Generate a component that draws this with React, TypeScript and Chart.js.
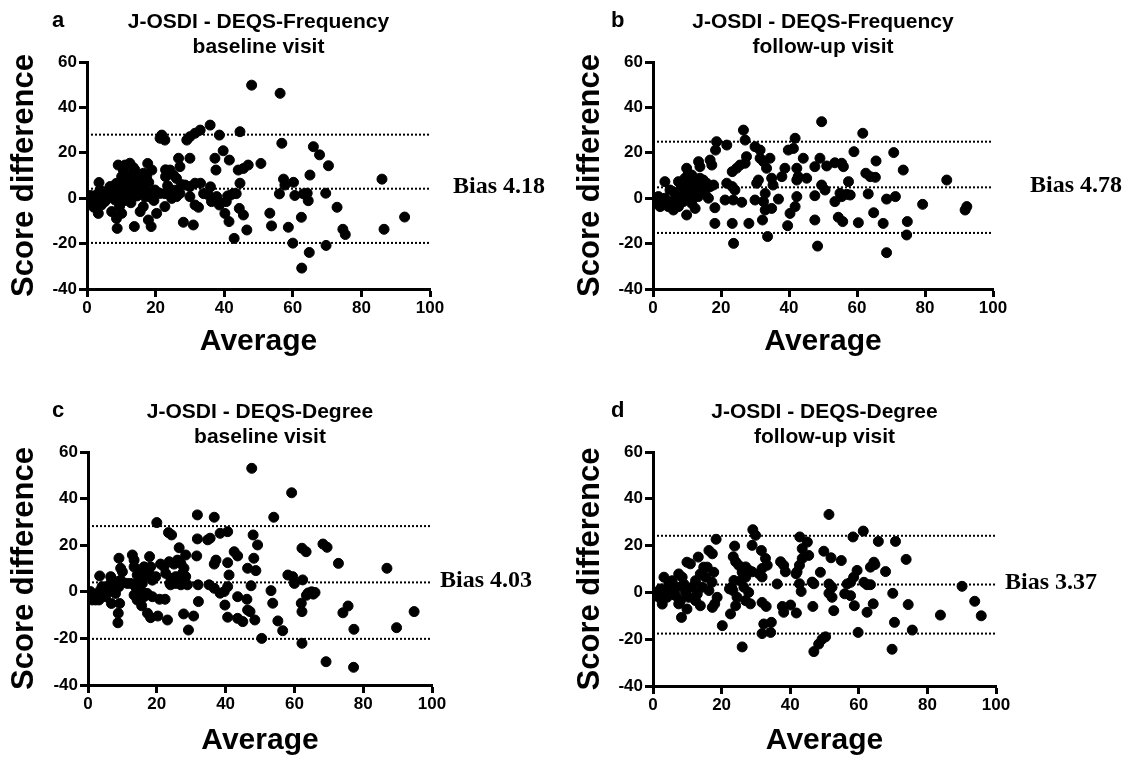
import React, { useEffect, useRef } from 'react';
import { Chart, registerables } from 'chart.js';

Chart.register(...registerables);

const SANS = '"Liberation Sans", Arial, Helvetica, sans-serif';
const SERIF = '"Liberation Serif", "Times New Roman", serif';

// ---- data ----
const xTickValues = [0, 20, 40, 60, 80, 100];
const yTickValues = [-40, -20, 0, 20, 40, 60];
const panelLetters = ['a', 'b', 'c', 'd'];
const titleLine1 = ['J-OSDI - DEQS-Frequency', 'J-OSDI - DEQS-Frequency', 'J-OSDI - DEQS-Degree', 'J-OSDI - DEQS-Degree'];
const titleLine2 = ['baseline visit', 'follow-up visit', 'baseline visit', 'follow-up visit'];
const yAxisTitle = 'Score difference';
const xAxisTitle = 'Average';
const biasValues = [4.18, 4.78, 4.03, 3.37];
const upperLimits = [28.0, 24.9, 28.2, 24.2];
const lowerLimits = [-19.7, -15.3, -20.2, -17.6];

const pointsA: [number, number][] = [
  [0,0],[0.5,-1.5],[1.0,1.2],[1.3,-0.7],[1.9,0],[2.0,-4.0],[2.3,-2.6],[2.5,1.2],[3.0,-1.5],[3.3,-6.7],[3.5,6.9],[3.8,3.6],[4.2,-3.0],[4.7,1.5],[4.8,0.7],[5.2,-1.5],[5.6,2.9],[5.8,-0.5],[6.2,2.9],[6.5,1.0],[6.7,5.1],[7.0,3.5],[7.2,-5.9],[7.7,1.4],[8.0,2.0],[8.2,-0.8],[8.5,6.5],[8.6,-8.9],[8.8,-13.3],[9.0,0.0],[9.1,14.6],[9.4,4.3],[9.5,-3.5],[9.8,2.5],[10.1,-6.7],[10.1,9.5],[10.5,5.0],[10.6,12.4],[11.0,-1.0],[11.1,14.6],[11.5,1.5],[11.6,7.3],[12.0,10.0],[12.3,5.1],[12.5,15.4],[12.8,-2.0],[13.0,3.6],[13.0,8.0],[13.5,0.7],[13.5,13.5],[13.8,-12.5],[14.0,12.4],[14.0,4.0],[14.5,9.5],[14.6,1.0],[15.0,6.6],[15.5,-5.9],[15.5,9.0],[15.9,3.6],[16.0,7.5],[16.4,-3.7],[16.5,11.0],[16.9,5.1],[17.0,0.5],[17.4,9.5],[17.5,3.0],[17.7,15.3],[17.9,-9.6],[18.0,7.0],[18.7,-12.5],[18.9,2.1],[18.9,12.4],[19.0,0.0],[19.5,-1.0],[19.8,3.6],[20.3,-6.7],[21.3,2.1],
  [21.3,26.4],[21.8,27.8],[22.7,25.6],[22.7,-3.7],[22.7,2.0],[22.9,12.5],[22.9,9.5],[23.5,5.5],[23.7,4.3],[24.2,12.4],[24.7,-0.1],[25.2,10.2],[25.5,3.5],[26.1,8.7],[26.1,0.7],[26.7,17.6],[27.1,13.9],[27.1,2.1],[27.5,6.0],[28.1,-10.6],[28.6,5.8],[29.1,25.6],[30.0,27.1],[30.0,5.1],[30.0,17.6],[30.0,0.7],[31.0,-11.8],[31.5,-3.0],[31.5,6.6],[31.5,28.6],[32.5,-4.0],[33.0,30.0],[33.1,6.6],[34.0,2.0],[35.4,1.4],[35.9,32.2],[36.0,5.0],[36.3,-1.5],[37.3,17.6],[37.6,12.4],[37.8,0.7],[38.2,-1.2],[38.6,27.8],[38.6,-3.0],[39.7,20.9],[40.2,-6.7],[40.6,-1.5],[41.0,1.0],[41.4,-10.3],[41.5,16.8],[41.9,1.4],[42.7,2.1],[42.9,-17.7],[43.5,2.0],[44.1,12.4],[44.4,-4.5],[44.6,29.3],[44.6,6.6],[45.6,13.1],[45.6,-7.4],[46.6,-14.0],[47.0,14.6],[48.0,49.8],[50.7,15.3],
  [53.3,-6.6],[53.8,-12.2],[56.1,1.9],[56.3,46.2],[56.8,24.2],[57.3,8.4],[57.7,5.8],[58.7,-12.8],[60.0,-19.8],[60.2,7.0],[60.6,1.2],[62.5,-8.4],[62.6,-30.8],[63.1,1.9],[64.2,2.2],[64.5,-1.1],[64.8,-23.9],[65.0,10.2],[66.0,22.7],[67.8,19.1],[69.6,2.2],[69.7,-20.8],[70.4,14.3],[72.9,-4.0],[74.6,-13.7],[75.3,-16.0],[86.0,8.4],[86.6,-13.7],[92.6,-8.3],
];

const pointsB: [number, number][] = [
  [0.2,0],[0.6,-0.8],[1.1,-2.3],[1.6,0.7],[2.1,-3.7],[2.5,-1.5],[3.5,0],[3.5,7.3],[4.0,-3.0],[4.5,-3.7],[5.0,3.6],[5.5,-1.5],[6.0,-5.2],[6.5,2.1],[7.0,-0.8],[7.5,-3.7],[7.5,7.3],[7.9,3.6],[8.4,0.7],[8.4,6.6],[8.9,-1.5],[9.4,5.1],[9.4,8.8],[9.9,13.2],[9.9,-7.4],[10.4,11.0],[10.4,2.1],[10.9,0],[11.4,10.2],[11.4,-2.3],[11.4,7.3],[11.9,3.6],[12.4,-4.5],[12.4,6.6],[12.8,5.1],[13.3,0.7],[13.4,16.1],[13.8,13.9],[13.8,8.8],[14.3,3.6],[14.8,8.0],[15.3,2.1],[15.8,6.6],[16.3,0],[16.8,5.1],[16.8,16.8],[17.3,14.6],[17.8,5.8],[18.2,-4.2],[18.2,-11.1],[18.4,21.2],[18.7,24.9],
  [21.2,-0.8],[21.7,23.4],[21.7,6.6],[23.3,5.1],[23.3,11.7],[23.3,-11.1],[23.6,-0.8],[23.7,-19.9],[24.1,3.6],[24.6,13.2],[25.6,14.6],[26.1,-1.8],[26.6,30.0],[27.1,25.6],[27.1,15.4],[27.5,18.3],[28.2,-11.1],[30.0,22.7],[30.0,-0.8],[30.5,6.6],[31.0,8.0],[31.5,21.2],[31.5,17.6],[32.2,-9.6],[32.5,16.1],[32.5,-1.5],[33.0,2.1],[33.0,-5.2],[33.4,13.2],[33.7,-16.9],[34.4,17.6],[34.9,8.8],[34.9,-4.5],[35.3,5.8],[36.9,-0.4],[37.9,9.5],[38.8,13.2],[39.6,-12.1],[39.8,21.2],[40.3,-6.7],[41.3,21.9],[41.8,26.4],[41.8,-3.7],[42.3,13.2],[42.3,8.0],[42.3,0.7],[42.7,9.5],[44.2,17.6],[45.2,8.8],[47.6,13.9],[47.6,1.1],[47.6,-9.6],[48.4,-21.1],[49.1,17.6],[49.6,5.8],[49.6,33.7],
  [50.6,3.6],[51.1,14.2],[53.5,15.6],[53.5,-1.5],[54.5,-8.4],[55.0,2.2],[55.5,15.4],[55.5,0.7],[55.8,-10.3],[56.0,13.9],[57.0,1.7],[57.5,7.3],[58.0,1.4],[59.1,20.5],[60.4,-10.8],[61.7,28.6],[62.6,11.0],[63.3,1.9],[63.9,9.5],[64.9,-6.4],[65.4,9.2],[65.6,16.4],[67.7,-11.1],[68.7,-0.4],[68.7,-24.0],[70.8,20.1],[71.3,0.7],[73.6,12.4],[74.6,-16.2],[74.8,-10.3],[79.3,-2.7],[86.4,8.0],[91.8,-5.2],[92.3,-3.7],
];

const pointsC: [number, number][] = [
  [0.7,0.1],[0.7,-2.1],[1.2,-3.5],[1.7,-2.1],[2.2,-3.5],[2.7,-1.4],[3.2,-3.5],[3.4,6.8],[3.6,0.7],[4.1,2.2],[4.6,-0.7],[5.1,-2.1],[5.6,2.2],[6.1,0.1],[6.6,3.6],[6.6,6.5],[6.8,-5.0],[7.0,5.0],[7.5,1.5],[8.0,-0.7],[8.5,4.3],[8.7,-13.3],[8.8,-9.2],[9.0,2.2],[9.0,14.4],[9.2,-5.0],[9.5,5.0],[9.5,10.1],[10.0,8.6],[11.4,3.6],[12.4,3.6],[12.9,15.8],[13.4,13.6],[13.4,-1.4],[13.4,10.7],[13.8,2.2],[14.3,-3.5],[14.3,7.2],[14.8,5.0],[14.8,9.3],[15.3,0.7],[15.6,-6.0],[15.8,3.6],[16.3,-2.1],[16.3,6.5],[16.3,10.7],[17.2,-0.7],[17.2,8.6],[17.3,-9.2],[17.7,7.9],[17.9,15.1],[18.2,10.7],[18.2,-11.1],[18.7,-2.1],[18.7,5.0],[19.7,6.5],[20.0,29.7],[20.3,-10.4],[20.8,-3.2],
  [21.1,11.9],[22.1,10.8],[22.4,-3.2],[22.6,7.9],[23.1,-12.1],[23.4,25.4],[23.6,12.9],[23.8,3.6],[24.0,3.0],[24.1,5.8],[24.3,24.4],[25.0,11.9],[25.5,6.5],[25.5,3.6],[26.0,13.6],[26.5,18.9],[27.0,12.2],[27.0,5.1],[27.0,3.0],[27.5,7.9],[27.8,-9.5],[27.9,10.1],[28.4,6.5],[28.4,15.8],[28.9,3.0],[29.2,-16.4],[30.7,-10.4],[31.6,15.4],[31.8,22.7],[31.8,33.0],[32.0,3.0],[32.1,-4.2],[34.8,22.3],[35.2,3.0],[35.5,23.0],[36.7,32.0],[36.7,11.9],[36.7,1.5],[37.2,13.6],[38.4,25.1],[38.4,-0.6],[39.6,0.1],[39.8,-5.7],[40.6,25.8],[40.6,12.5],[40.6,2.2],[40.6,-10.9],[41.0,7.2],[42.5,17.2],[43.5,15.4],[43.5,-2.1],[43.5,-11.4],[45.0,-12.8],[46.2,-3.2],[46.4,10.1],[46.4,-7.8],[47.1,-8.5],[47.4,2.6],[47.6,53.0],[48.0,24.4],[48.2,14.4],[48.5,-12.1],[48.8,9.1],[49.3,20.1],
  [50.5,-20.0],[53.2,0.5],[53.7,-4.9],[54.0,32.0],[55.2,-12.5],[56.6,-16.7],[58.1,7.2],[59.2,42.5],[59.5,6.5],[60.0,3.6],[62.0,-4.9],[62.2,-8.5],[62.2,18.7],[62.2,-22.1],[62.4,5.1],[63.4,17.2],[63.5,-1.5],[64.0,-0.5],[65.0,0.0],[65.5,-1.0],[66.0,-0.3],[68.3,20.5],[69.2,-30.0],[69.5,19.1],[72.8,12.2],[74.1,-9.0],[75.6,-6.1],[77.2,-32.4],[77.3,-16.1],[86.9,10.1],[89.7,-15.4],[94.8,-8.5],
];

const pointsD: [number, number][] = [
  [0.2,0.1],[0.7,-1.4],[1.7,-2.1],[2.2,1.5],[2.7,-5.0],[3.2,6.5],[3.6,0.8],[4.1,-2.1],[4.6,3.6],[5.6,5.0],[6.1,0.8],[6.6,-1.4],[7.1,2.2],[7.5,7.9],[7.5,-4.9],[8.0,-3.5],[8.3,-10.7],[8.5,6.5],[9.0,3.6],[9.5,0.1],[9.9,12.9],[9.9,-7.1],[10.4,-2.1],[10.9,12.2],[11.4,2.2],[12.4,5.0],[12.4,-3.5],[12.9,-0.7],[13.2,15.1],[13.8,7.9],[13.8,-5.7],[14.3,2.2],[14.8,10.8],[15.3,6.5],[15.8,10.8],[16.3,17.9],[16.3,0.8],[17.2,4.3],[17.3,16.5],[17.3,-6.4],[17.7,8.6],[18.0,-4.9],[18.4,22.7],[18.7,-2.1],[20.2,-14.2],
  [22.3,1.5],[22.6,-9.2],[22.9,2.2],[23.3,0.8],[23.4,15.2],[23.6,5.1],[23.8,19.8],[24.1,13.1],[24.1,-5.7],[24.5,-2.1],[25.0,11.6],[25.5,5.0],[26.0,10.2],[26.0,8.6],[26.0,-23.3],[26.5,2.2],[27.0,10.9],[27.0,6.5],[27.0,-3.5],[27.9,9.5],[27.9,0.0],[28.4,-4.9],[28.9,8.8],[28.9,20.1],[29.1,26.8],[29.9,24.4],[30.9,8.0],[31.6,17.9],[31.8,10.2],[31.8,6.6],[31.8,-4.3],[31.8,-17.6],[32.3,-13.5],[32.8,14.5],[33.0,-6.0],[33.3,11.6],[34.3,-17.1],[34.5,-12.8],[36.2,3.6],[37.2,13.1],[37.7,-6.0],[38.1,11.6],[38.1,-8.5],[38.6,8.8],[40.1,-5.4],[41.7,8.0],[41.8,-8.8],[42.0,8.8],[42.7,11.6],[42.7,3.7],[42.8,23.7],[43.2,0.4],[43.5,14.5],[43.5,18.7],[45.0,21.5],[45.4,15.8],[46.4,4.4],[46.6,-6.0],[46.9,3.7],[46.9,-25.3],[48.3,-22.1],[48.8,8.6],[49.3,-20.0],[49.8,17.6],
  [50.3,-19.0],[51.3,33.3],[51.3,3.6],[51.3,-0.4],[51.9,14.8],[52.2,2.2],[52.2,-2.1],[52.7,-7.8],[54.9,13.6],[55.9,-0.6],[56.6,3.6],[57.6,4.3],[57.6,-1.4],[58.3,23.7],[58.5,6.5],[58.7,-5.7],[59.5,9.4],[59.8,-17.1],[61.3,26.2],[61.5,4.3],[62.4,3.3],[62.4,-8.5],[63.4,3.3],[63.4,10.8],[64.2,-4.9],[64.4,12.9],[64.7,11.9],[65.7,21.8],[67.8,8.9],[69.7,-24.3],[69.9,-0.4],[70.4,-12.8],[70.7,21.8],[73.8,14.1],[74.4,-5.2],[75.6,-16.1],[83.8,-9.7],[90.1,2.6],[93.8,-3.8],[95.7,-10.0],
];

const panelPoints = [pointsA, pointsB, pointsC, pointsD];

// ---- layout (page pixels) ----
const panelBoxes = [
  { left: 0, top: 0, width: 566, height: 372, plotLeft: 87, plotRight: 430, plotTop: 62, plotBottom: 289, xTitleMid: 341.6, biasOffset: 23, letterX: 52, letterY: 27 },
  { left: 566, top: 0, width: 567, height: 372, plotLeft: 653, plotRight: 993, plotTop: 62, plotBottom: 289, xTitleMid: 341.6, biasOffset: 37, letterX: 611, letterY: 27 },
  { left: 0, top: 390, width: 566, height: 368, plotLeft: 88, plotRight: 432, plotTop: 452, plotBottom: 685, xTitleMid: 741, biasOffset: 8, letterX: 52, letterY: 417 },
  { left: 566, top: 390, width: 567, height: 368, plotLeft: 653, plotRight: 996, plotTop: 452, plotBottom: 686, xTitleMid: 741, biasOffset: 9, letterX: 611, letterY: 417 },
];

const labelPlugin = {
  id: 'panelLabels',
  afterDraw(chart: any, _args: any, opts: any) {
    const { ctx, chartArea, scales } = chart;
    ctx.save();
    ctx.fillStyle = '#000';
    ctx.font = `bold 24px ${SERIF}`;
    ctx.textAlign = 'left';
    ctx.textBaseline = 'middle';
    const y = scales.y.getPixelForValue(opts.bias);
    ctx.fillText('Bias ' + opts.bias.toFixed(2), chartArea.right + opts.offset, y - 2);
    ctx.font = `bold 22px ${SANS}`;
    ctx.textBaseline = 'alphabetic';
    ctx.fillText(opts.letter, opts.letterX, opts.letterY);
    ctx.restore();
  },
};

function Panel({ idx }: { idx: number }) {
  const ref = useRef<HTMLCanvasElement | null>(null);
  const box = panelBoxes[idx];
  useEffect(() => {
    if (!ref.current) return;
    const yScaleWidth = box.plotLeft - box.left;
    const xScaleHeight = box.top + box.height - box.plotBottom;
    const padRight = box.left + box.width - box.plotRight;
    const titleTopPad = box.plotTop - box.top - 50 - 2.5;
    const xTitlePadBottom = Math.max(0, box.top + box.height - box.xTitleMid - 15);
    const pts = panelPoints[idx].map(([x, y]) => ({ x, y }));
    const limitLine = (v: number) => ({
      type: 'line' as const,
      data: [{ x: xTickValues[0], y: v }, { x: xTickValues[xTickValues.length - 1], y: v }],
      borderColor: '#000',
      borderWidth: 2,
      borderDash: [2, 2],
      pointRadius: 0,
      fill: false,
    });
    const chart = new Chart(ref.current, {
      type: 'scatter',
      data: {
        datasets: [
          {
            data: pts,
            pointRadius: 5,
            pointBorderWidth: 1,
            pointBackgroundColor: '#000',
            pointBorderColor: '#000',
          } as any,
          limitLine(upperLimits[idx]),
          limitLine(biasValues[idx]),
          limitLine(lowerLimits[idx]),
        ],
      },
      plugins: [labelPlugin],
      options: {
        animation: false,
        responsive: false,
        devicePixelRatio: 1,
        layout: { padding: { left: 0, top: 0, right: padRight, bottom: 0 } },
        plugins: {
          legend: { display: false },
          tooltip: { enabled: false },
          title: {
            display: true,
            fullSize: false,
            text: [titleLine1[idx], titleLine2[idx]],
            color: '#000',
            font: { family: SANS, size: 21, weight: 'bold', lineHeight: '25px' },
            padding: { top: titleTopPad, bottom: 2.5 },
          },
          panelLabels: {
            bias: biasValues[idx],
            offset: box.biasOffset,
            letter: panelLetters[idx],
            letterX: box.letterX - box.left,
            letterY: box.letterY - box.top,
          },
        } as any,
        scales: {
          x: {
            type: 'linear',
            min: xTickValues[0],
            max: xTickValues[xTickValues.length - 1],
            afterBuildTicks: (s: any) => { s.ticks = xTickValues.map((v) => ({ value: v })); },
            afterFit: (s: any) => { s.height = xScaleHeight; },
            ticks: { color: '#000', font: { family: SANS, size: 17, weight: 'bold' }, padding: 1, maxRotation: 0, autoSkip: false },
            grid: { drawOnChartArea: false, drawTicks: true, tickLength: 8, tickWidth: 3, tickColor: '#000', color: '#000' },
            border: { display: true, color: '#000', width: 3 },
            title: { display: true, text: xAxisTitle, color: '#000', font: { family: SANS, size: 30, weight: 'bold', lineHeight: 1 }, padding: { top: 0, bottom: xTitlePadBottom } },
          },
          y: {
            type: 'linear',
            min: yTickValues[0],
            max: yTickValues[yTickValues.length - 1],
            afterBuildTicks: (s: any) => { s.ticks = yTickValues.map((v) => ({ value: v })); },
            afterFit: (s: any) => { s.width = yScaleWidth; },
            ticks: { color: '#000', font: { family: SANS, size: 17, weight: 'bold' }, padding: 2, autoSkip: false },
            grid: { drawOnChartArea: false, drawTicks: true, tickLength: 8, tickWidth: 3, tickColor: '#000', color: '#000' },
            border: { display: true, color: '#000', width: 3 },
            title: { display: true, text: yAxisTitle, color: '#000', font: { family: SANS, size: 31, weight: 'bold' }, padding: { top: 6, bottom: 0 } },
          },
        },
      } as any,
    });
    return () => chart.destroy();
  }, [idx]);
  return (
    <canvas
      ref={ref}
      width={box.width}
      height={box.height}
      style={{ position: 'absolute', left: box.left, top: box.top, width: box.width, height: box.height }}
    />
  );
}

export default function App() {
  return (
    <div style={{ position: 'absolute', left: 0, top: 0, width: 1133, height: 758, background: '#fff', overflow: 'hidden' }}>
      {panelBoxes.map((_, i) => (
        <Panel key={i} idx={i} />
      ))}
    </div>
  );
}
